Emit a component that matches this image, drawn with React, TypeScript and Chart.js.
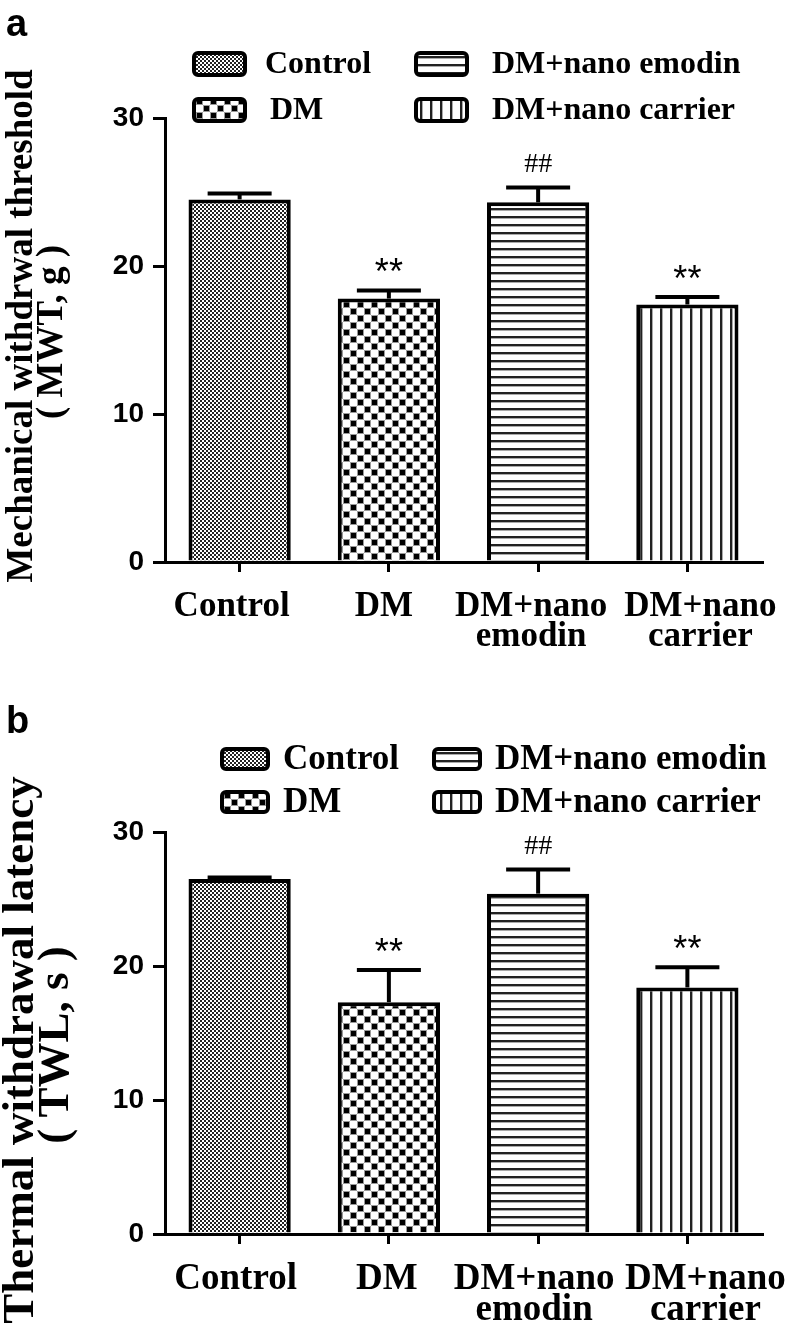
import React, { useEffect, useRef } from 'react';
import { Chart, registerables } from 'chart.js';

Chart.register(...registerables);

// ---------- data ----------
const categories: string[][] = [['Control'], ['DM'], ['DM+nano', 'emodin'], ['DM+nano', 'carrier']];
const legendLabels = ['Control', 'DM', 'DM+nano emodin', 'DM+nano carrier'];
const mwtValues = [24.5, 17.8, 24.3, 17.4];
const mwtErrors = [0.4, 0.55, 1.0, 0.5];
const mwtMarks = ['', '**', '##', '**'];
const twlValues = [26.5, 17.3, 25.4, 18.4];
const twlErrors = [0.1, 2.4, 1.8, 1.5];
const twlMarks = ['', '**', '##', '**'];
const yTickValues = [0, 10, 20, 30];
const mwtTitle = ['Mechanical withdrwal threshold', '( MWT, g )'];
const twlTitle = ['Thermal withdrawal latency', '( TWL, s )'];

const SERIF = '"Liberation Serif", "Times New Roman", serif';
const SANS = '"Liberation Sans", Arial, sans-serif';

type Kind = 'fine' | 'checker' | 'hstripe' | 'vstripe';
const kinds: Kind[] = ['fine', 'checker', 'hstripe', 'vstripe'];

function makePattern(kind: Kind): CanvasPattern | string {
  const c = document.createElement('canvas');
  let w = 4, h = 4;
  if (kind === 'checker') { w = 14; h = 14; }
  if (kind === 'hstripe') { w = 8; h = 8; }
  if (kind === 'vstripe') { w = 10; h = 10; }
  c.width = w; c.height = h;
  const g = c.getContext('2d')!;
  g.fillStyle = '#fff';
  g.fillRect(0, 0, w, h);
  if (kind === 'fine') {
    g.fillStyle = '#222';
    g.fillRect(0, 0, 2, 2);
    g.fillRect(2, 2, 2, 2);
  } else if (kind === 'checker') {
    g.fillStyle = '#999';
    g.fillRect(0, 0, 7, 7);
    g.fillRect(7, 7, 7, 7);
    g.fillStyle = '#000';
    g.fillRect(1, 1, 5, 5);
    g.fillRect(8, 8, 5, 5);
  } else if (kind === 'hstripe') {
    g.fillStyle = '#222';
    g.fillRect(0, 0, w, 2);
    g.fillStyle = '#aaa';
    g.fillRect(0, 2, w, 1);
  } else {
    g.fillStyle = '#222';
    g.fillRect(0, 0, 2, h);
    g.fillStyle = '#aaa';
    g.fillRect(2, 0, 1, h);
  }
  return g.createPattern(c, 'repeat') || '#888';
}

interface PanelCfg {
  top: number;
  height: number;
  chartTop: number;
  chartBottom: number;
  values: number[];
  errors: number[];
  marks: string[];
  title: string[];
  titleFont: number;
  titleX: number[];
  titleY: number[];
  letter: string;
  letterY: number;
  legendRows: number[];
  legendBoxX: number[];
  legendTextX: number[][];
  legendBox: [number, number];
  legendFont: number;
  xFont: number;
  xLabelShift: number[];
  xLabelBaselines: number[];
}

const panelA: PanelCfg = {
  top: 0, height: 680, chartTop: 118, chartBottom: 562,
  values: mwtValues, errors: mwtErrors, marks: mwtMarks,
  title: mwtTitle, titleFont: 37, titleX: [22, 52], titleY: [326, 332],
  letter: 'a', letterY: 36,
  legendRows: [64, 110], legendBoxX: [194, 416], legendTextX: [[265, 492], [270, 492]],
  legendBox: [51, 22], legendFont: 32,
  xFont: 35, xLabelShift: [-8, -5, -7, 13], xLabelBaselines: [616, 646],
};

const panelB: PanelCfg = {
  top: 680, height: 645, chartTop: 152, chartBottom: 554,
  values: twlValues, errors: twlErrors, marks: twlMarks,
  title: twlTitle, titleFont: 45, titleX: [21, 56], titleY: [370, 365],
  letter: 'b', letterY: 53,
  legendRows: [79, 122], legendBoxX: [222, 434], legendTextX: [[283, 495], [283, 495]],
  legendBox: [46, 20], legendFont: 35,
  xFont: 37, xLabelShift: [-4, -2, -4, 18], xLabelBaselines: [609, 640],
};

const CHART_LEFT = 165;
const CHART_RIGHT = 762;

function Panel({ cfg }: { cfg: PanelCfg }) {
  const ref = useRef<HTMLCanvasElement | null>(null);
  useEffect(() => {
    const canvas = ref.current!;
    const patterns = kinds.map(makePattern);

    const overlay = {
      id: 'overlay',
      afterDatasetsDraw(chart: any) {
        const ctx = chart.ctx as CanvasRenderingContext2D;
        const y = chart.scales.y;
        const meta = chart.getDatasetMeta(0);
        ctx.save();
        ctx.strokeStyle = '#000';
        ctx.fillStyle = '#000';
        cfg.values.forEach((v, i) => {
          const x = meta.data[i].x;
          const yTop = y.getPixelForValue(v);
          const yCap = y.getPixelForValue(v + cfg.errors[i]);
          ctx.lineWidth = 4;
          ctx.beginPath();
          ctx.moveTo(x, yTop);
          ctx.lineTo(x, yCap);
          ctx.stroke();
          ctx.beginPath();
          ctx.moveTo(x - 32, yCap);
          ctx.lineTo(x + 32, yCap);
          ctx.stroke();
          const m = cfg.marks[i];
          if (m) {
            ctx.textAlign = 'center';
            ctx.textBaseline = 'alphabetic';
            if (m === '##') {
              ctx.font = `28px ${SERIF}`;
              ctx.fillText(m, x, yCap - 16);
            } else {
              ctx.font = `36px ${SANS}`;
              ctx.fillText(m, x, yCap - 6);
            }
          }
        });
        ctx.restore();
      },
      afterDraw(chart: any) {
        const ctx = chart.ctx as CanvasRenderingContext2D;
        const xs = chart.scales.x;
        ctx.save();
        ctx.fillStyle = '#000';
        // category labels
        ctx.font = `bold ${cfg.xFont}px ${SERIF}`;
        ctx.textAlign = 'center';
        ctx.textBaseline = 'alphabetic';
        categories.forEach((lines, i) => {
          const cx = xs.getPixelForTick(i) + cfg.xLabelShift[i];
          lines.forEach((t, k) => ctx.fillText(t, cx, cfg.xLabelBaselines[k]));
        });
        // panel letter
        ctx.font = `bold 38px ${SANS}`;
        ctx.textAlign = 'left';
        ctx.fillText(cfg.letter, 6, cfg.letterY);
        // y title
        ctx.font = `bold ${cfg.titleFont}px ${SERIF}`;
        ctx.textAlign = 'center';
        ctx.textBaseline = 'middle';
        cfg.title.forEach((t, k) => {
          ctx.save();
          ctx.translate(cfg.titleX[k], cfg.titleY[k]);
          ctx.rotate(-Math.PI / 2);
          ctx.fillText(t, 0, 0);
          ctx.restore();
        });
        // legend
        const [bw, bh] = cfg.legendBox;
        legendLabels.forEach((lab, i) => {
          const row = i % 2;
          const col = Math.floor(i / 2);
          const cy = cfg.legendRows[row];
          const bx = cfg.legendBoxX[col];
          ctx.beginPath();
          const r = 4;
          const x0 = bx, y0 = cy - bh / 2;
          ctx.moveTo(x0 + r, y0);
          ctx.arcTo(x0 + bw, y0, x0 + bw, y0 + bh, r);
          ctx.arcTo(x0 + bw, y0 + bh, x0, y0 + bh, r);
          ctx.arcTo(x0, y0 + bh, x0, y0, r);
          ctx.arcTo(x0, y0, x0 + bw, y0, r);
          ctx.closePath();
          ctx.fillStyle = patterns[i] as any;
          ctx.fill();
          ctx.lineWidth = 4;
          ctx.strokeStyle = '#000';
          ctx.stroke();
          ctx.fillStyle = '#000';
          ctx.font = `bold ${cfg.legendFont}px ${SERIF}`;
          ctx.textAlign = 'left';
          ctx.textBaseline = 'middle';
          ctx.fillText(lab, cfg.legendTextX[row][col], cy + 1);
        });
        ctx.restore();
      },
    };

    const chart = new Chart(canvas, {
      type: 'bar',
      data: {
        labels: categories.map((c) => c.join(' ')),
        datasets: [
          {
            data: cfg.values,
            backgroundColor: patterns as any,
            borderColor: '#000',
            borderWidth: 4,
            barPercentage: 0.685,
            categoryPercentage: 1,
          },
        ],
      },
      options: {
        animation: false,
        responsive: false,
        layout: { padding: { top: cfg.chartTop, right: 799 - CHART_RIGHT, left: 0, bottom: 0 } },
        plugins: { legend: { display: false }, tooltip: { enabled: false } },
        scales: {
          x: {
            offset: true,
            border: { display: true, color: '#000', width: 3 },
            grid: {
              display: true, offset: false, drawOnChartArea: false, drawTicks: true,
              tickLength: 10, tickWidth: 3, tickColor: '#000', color: '#000', lineWidth: 3,
            },
            ticks: { display: false },
            afterFit: (s: any) => { s.height = cfg.height - cfg.chartBottom; },
          },
          y: {
            min: 0,
            max: 30,
            border: { display: true, color: '#000', width: 3 },
            grid: {
              display: true, drawOnChartArea: false, drawTicks: true,
              tickLength: 12, tickWidth: 3, tickColor: '#000', color: '#000', lineWidth: 3,
            },
            afterBuildTicks: (s: any) => { s.ticks = yTickValues.map((v) => ({ value: v })); },
            ticks: {
              color: '#000',
              padding: 9,
              font: { family: SANS, size: 28, weight: 'bold' },
            },
            afterFit: (s: any) => { s.width = CHART_LEFT; },
          },
        },
      },
      plugins: [overlay],
    } as any);
    return () => chart.destroy();
  }, [cfg]);
  return (
    <canvas
      ref={ref}
      width={799}
      height={cfg.height}
      style={{ position: 'absolute', left: 0, top: cfg.top, width: 799, height: cfg.height, display: 'block' }}
    />
  );
}

export default function App() {
  return (
    <div style={{ position: 'absolute', left: 0, top: 0, width: 799, height: 1325, background: '#fff' }}>
      <Panel cfg={panelA} />
      <Panel cfg={panelB} />
    </div>
  );
}
